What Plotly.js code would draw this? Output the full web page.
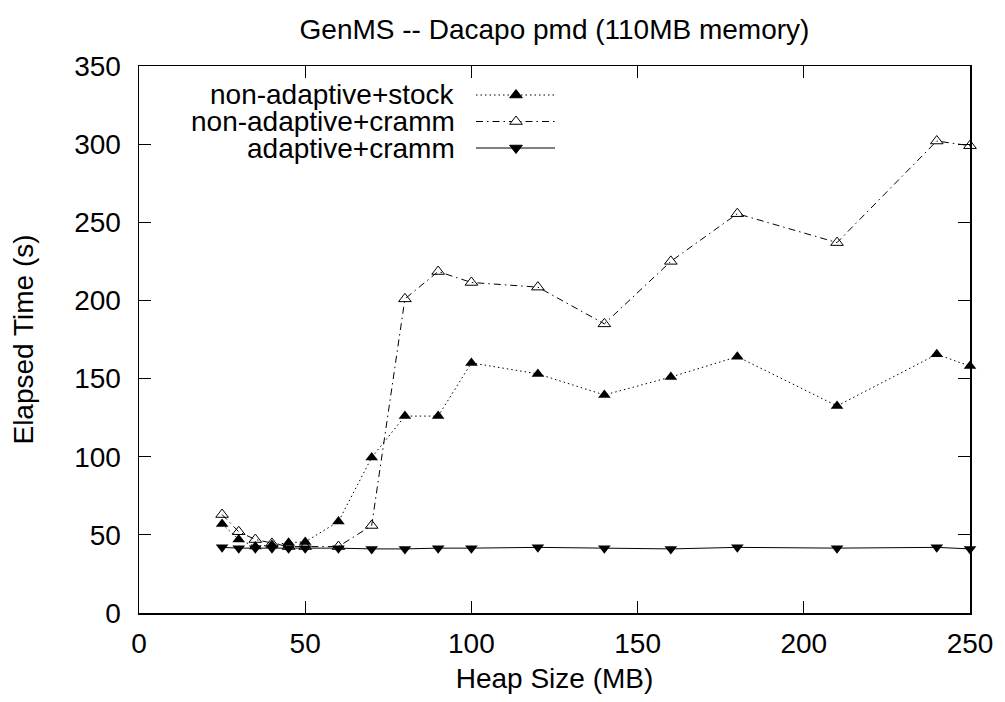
<!DOCTYPE html>
<html>
<head>
<meta charset="utf-8">
<script src="https://cdn.plot.ly/plotly-3.0.1.min.js"></script>
<style>
html,body{margin:0;padding:0;background:#fff;}
#chart{width:1005px;height:702px;}
</style>
</head>
<body>
<div id="chart"></div>
<script>
// Data
var heapSize = [25, 30, 35, 40, 45, 50, 60, 70, 80, 90, 100, 120, 140, 160, 180, 210, 240, 250];
var nonAdaptiveStock = [57, 47, 42.5, 43.5, 45, 45.5, 58.5, 99.5, 126, 126, 160, 153, 139.5, 151, 164, 132.5, 165.5, 158];
var nonAdaptiveCramm = [63, 52, 47, 44.5, 42.5, 42.5, 42.5, 56, 201, 218.5, 211.5, 208.5, 185, 225, 255.5, 237, 302, 299];
var adaptiveCramm = [42, 41.5, 41.5, 41.5, 41.5, 41.5, 41.5, 41, 41, 41.5, 41.5, 42, 41.5, 41, 42, 41.5, 42, 41];
var seriesNames = ["non-adaptive+stock", "non-adaptive+cramm", "adaptive+cramm"];
var xTicks = [0, 50, 100, 150, 200, 250];
var yTicks = [0, 50, 100, 150, 200, 250, 300, 350];

var W = 1005, H = 702;
var M = {l: 139, r: 35, t: 66, b: 89};
var PW = W - M.l - M.r, PH = H - M.t - M.b;
function px(x) { return (x - M.l) / PW; }
function py(y) { return (H - M.b - y) / PH; }

var FONT = "Liberation Sans, Arial, Helvetica, sans-serif";
var FS = 28;

var dashes = ["1.5px,3px", "7px,4px,1.5px,4px", "solid"];
var symbols = ["triangle-up", "triangle-up-open", "triangle-down"];
var values = [nonAdaptiveStock, nonAdaptiveCramm, adaptiveCramm];

var traces = values.map(function (v, i) {
  return {
    x: heapSize, y: v, name: seriesNames[i],
    type: "scatter", mode: "lines+markers", cliponaxis: false,
    line: {color: "#000", width: 1, dash: dashes[i]},
    marker: {symbol: symbols[i], size: 11, color: "#000",
             line: {color: "#000", width: i === 1 ? 1 : 0}},
    showlegend: false, hoverinfo: "x+y"
  };
});

// Manual legend (text right-aligned, sample on the right, like gnuplot)
var legRowsY = [95, 121.5, 148];
var textRight = 457, lineX0 = 476, lineX1 = 555, markX = 516;
var annotations = [], shapes = [];
seriesNames.forEach(function (n, i) {
  var yy = legRowsY[i];
  annotations.push({
    xref: "paper", yref: "paper", x: px(textRight), y: py(yy),
    xanchor: "right", yanchor: "middle", showarrow: false,
    text: n, font: {family: FONT, size: FS, color: "#000"}
  });
  shapes.push({
    type: "line", xref: "paper", yref: "paper",
    x0: px(lineX0), x1: px(lineX1), y0: py(yy), y1: py(yy),
    line: {color: "#000", width: 1, dash: dashes[i]}
  });
  // marker glyph
  var s = 11, r = s / 2, rt = r * 2 / Math.sqrt(3);
  var pts;
  if (i < 2) {
    pts = [[markX - rt, yy + r / 2], [markX + rt, yy + r / 2], [markX, yy - r]];
  } else {
    pts = [[markX - rt, yy - r / 2], [markX + rt, yy - r / 2], [markX, yy + r]];
  }
  var path = "M" + pts.map(function (p) { return px(p[0]) + "," + py(p[1]); }).join("L") + "Z";
  shapes.push({
    type: "path", xref: "paper", yref: "paper", path: path,
    fillcolor: i === 1 ? "#fff" : "#000",
    line: {color: "#000", width: 1}
  });
});

var layout = {
  width: W, height: H,
  margin: M,
  paper_bgcolor: "#fff", plot_bgcolor: "#fff",
  font: {family: FONT, size: FS, color: "#000"},
  title: {
    text: "GenMS -- Dacapo pmd (110MB memory)",
    font: {family: FONT, size: FS, color: "#000"},
    x: 0.5, xref: "paper", xanchor: "center",
    y: 1 - 29 / H, yref: "container", yanchor: "middle"
  },
  xaxis: {
    range: [0, 250], tickvals: xTicks, ticktext: xTicks.map(String),
    ticks: "inside", ticklen: 12, tickwidth: 1, tickcolor: "#000",
    showline: true, linecolor: "#000", linewidth: 1.5, mirror: "ticks",
    showgrid: false, zeroline: false,
    tickfont: {family: FONT, size: FS, color: "#000"},
    ticklabelstandoff: 5,
    title: {text: "Heap Size (MB)", font: {family: FONT, size: FS, color: "#000"}, standoff: 10}
  },
  yaxis: {
    range: [0, 350], tickvals: yTicks, ticktext: yTicks.map(String),
    ticks: "inside", ticklen: 12, tickwidth: 1, tickcolor: "#000",
    showline: true, linecolor: "#000", linewidth: 1.5, mirror: "ticks",
    showgrid: false, zeroline: false,
    tickfont: {family: FONT, size: FS, color: "#000"},
    ticklabelstandoff: 11,
    title: {text: "Elapsed Time (s)", font: {family: FONT, size: FS, color: "#000"}, standoff: 32}
  },
  annotations: annotations,
  shapes: shapes
};

Plotly.newPlot("chart", traces, layout, {displayModeBar: false, staticPlot: true});
</script>
</body>
</html>
